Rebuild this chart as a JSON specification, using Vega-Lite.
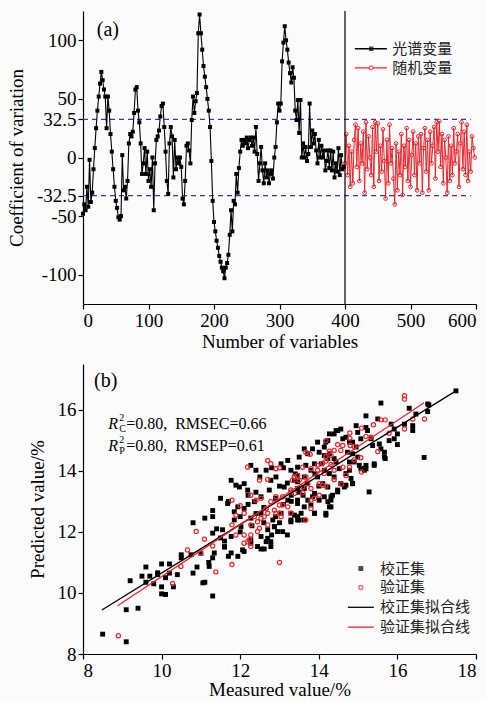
{
"$schema": "https://vega.github.io/schema/vega-lite/v6.json",
"background": "#fbfbfb",
"padding": {"left": 7, "top": 10, "right": 8, "bottom": 2},
"spacing": 13,
"config": {
  "view": {"stroke": null},
  "font": "Liberation Serif",
  "axis": {"labelFont": "Liberation Serif", "titleFont": "Liberation Serif", "labelFontSize": 19, "titleFontSize": 19, "titleFontWeight": "normal", "labelColor": "black", "titleColor": "black", "domainColor": "black", "tickColor": "black", "grid": false, "tickSize": 5, "domainWidth": 1.2, "tickWidth": 1.2, "labelPadding": 2}
},
"datasets": {
  "one": [{}],
  "hdash": [{"h": 32.5}, {"h": -32.5}],
  "spec": [
{"v":0,"cv":-48},{"v":2,"cv":-40},{"v":4,"cv":-45},{"v":6,"cv":-25},{"v":8,"cv":-42},{"v":10,"cv":-2},{"v":12,"cv":-38},{"v":14,"cv":-30},{"v":16,"cv":-10},{"v":18,"cv":8},
{"v":20,"cv":25},{"v":22,"cv":40},{"v":24,"cv":52},{"v":26,"cv":63},{"v":28,"cv":73},{"v":30,"cv":66},{"v":32,"cv":58},{"v":34,"cv":52},{"v":36,"cv":25},{"v":38,"cv":52},
{"v":40,"cv":40},{"v":42,"cv":20},{"v":44,"cv":5},{"v":46,"cv":-10},{"v":48,"cv":-25},{"v":50,"cv":-37},{"v":52,"cv":-43},{"v":54,"cv":-51},{"v":56,"cv":-53},{"v":58,"cv":-50},
{"v":60,"cv":2},{"v":62,"cv":-28},{"v":64,"cv":-25},{"v":66,"cv":-35},{"v":68,"cv":-20},{"v":70,"cv":12},{"v":72,"cv":20},{"v":74,"cv":18},{"v":76,"cv":22},{"v":78,"cv":38},
{"v":80,"cv":58},{"v":82,"cv":60},{"v":84,"cv":40},{"v":86,"cv":30},{"v":88,"cv":12},{"v":90,"cv":-14},{"v":92,"cv":-5},{"v":94,"cv":8},{"v":96,"cv":-14},{"v":98,"cv":5},
{"v":100,"cv":-20},{"v":102,"cv":-10},{"v":104,"cv":-25},{"v":106,"cv":0},{"v":108,"cv":-45},{"v":110,"cv":-5},{"v":112,"cv":15},{"v":114,"cv":18},{"v":116,"cv":23},{"v":118,"cv":35},
{"v":120,"cv":44},{"v":122,"cv":46},{"v":124,"cv":26},{"v":126,"cv":5},{"v":128,"cv":-20},{"v":130,"cv":-31},{"v":132,"cv":12},{"v":134,"cv":26},{"v":136,"cv":18},{"v":138,"cv":-17},
{"v":140,"cv":15},{"v":142,"cv":-10},{"v":144,"cv":0},{"v":146,"cv":-5},{"v":148,"cv":0},{"v":150,"cv":-8},{"v":152,"cv":-35},{"v":154,"cv":-40},{"v":156,"cv":-20},{"v":158,"cv":10},
{"v":160,"cv":12},{"v":162,"cv":6},{"v":164,"cv":-5},{"v":166,"cv":32},{"v":168,"cv":52},{"v":170,"cv":38},{"v":172,"cv":48},{"v":174,"cv":55},{"v":176,"cv":106},{"v":178,"cv":122},
{"v":180,"cv":106},{"v":182,"cv":92},{"v":184,"cv":78},{"v":186,"cv":69},{"v":188,"cv":60},{"v":190,"cv":50},{"v":192,"cv":40},{"v":194,"cv":26},{"v":196,"cv":-3},{"v":198,"cv":-37},
{"v":200,"cv":-55},{"v":202,"cv":-63},{"v":204,"cv":-71},{"v":206,"cv":-77},{"v":208,"cv":-84},{"v":210,"cv":-89},{"v":212,"cv":-94},{"v":214,"cv":-97},{"v":216,"cv":-103},{"v":218,"cv":-94},
{"v":220,"cv":-90},{"v":222,"cv":-83},{"v":224,"cv":-66},{"v":226,"cv":-45},{"v":228,"cv":-63},{"v":230,"cv":-37},{"v":232,"cv":-40},{"v":234,"cv":-14},{"v":236,"cv":-30},{"v":238,"cv":-9},
{"v":240,"cv":5},{"v":242,"cv":15},{"v":244,"cv":10},{"v":246,"cv":15},{"v":248,"cv":12},{"v":250,"cv":17},{"v":252,"cv":8},{"v":254,"cv":15},{"v":256,"cv":17},{"v":258,"cv":10},
{"v":260,"cv":17},{"v":262,"cv":5},{"v":264,"cv":26},{"v":266,"cv":3},{"v":268,"cv":-20},{"v":270,"cv":-5},{"v":272,"cv":9},{"v":274,"cv":-11},{"v":276,"cv":-22},{"v":278,"cv":-5},
{"v":280,"cv":-17},{"v":282,"cv":-11},{"v":284,"cv":-22},{"v":286,"cv":-14},{"v":288,"cv":-11},{"v":290,"cv":-18},{"v":292,"cv":0},{"v":294,"cv":9},{"v":296,"cv":30},{"v":298,"cv":46},
{"v":300,"cv":40},{"v":302,"cv":46},{"v":304,"cv":82},{"v":306,"cv":98},{"v":308,"cv":112},{"v":310,"cv":100},{"v":312,"cv":92},{"v":314,"cv":81},{"v":316,"cv":72},{"v":318,"cv":64},
{"v":320,"cv":77},{"v":322,"cv":68},{"v":324,"cv":40},{"v":326,"cv":32},{"v":328,"cv":49},{"v":330,"cv":21},{"v":332,"cv":49},{"v":334,"cv":0},{"v":336,"cv":12},{"v":338,"cv":0},
{"v":340,"cv":9},{"v":342,"cv":-3},{"v":344,"cv":3},{"v":346,"cv":46},{"v":348,"cv":9},{"v":350,"cv":23},{"v":352,"cv":12},{"v":354,"cv":20},{"v":356,"cv":6},{"v":358,"cv":-5},
{"v":360,"cv":15},{"v":362,"cv":0},{"v":364,"cv":10},{"v":366,"cv":0},{"v":368,"cv":6},{"v":370,"cv":-11},{"v":372,"cv":-3},{"v":374,"cv":6},{"v":376,"cv":-9},{"v":378,"cv":6},
{"v":380,"cv":-11},{"v":382,"cv":5},{"v":384,"cv":-17},{"v":386,"cv":-5},{"v":388,"cv":-12},{"v":390,"cv":8},{"v":392,"cv":-15},{"v":394,"cv":2},{"v":396,"cv":-10},{"v":398,"cv":-8}
  ],
  "rand": [
{"v":400,"cv":-5},{"v":402,"cv":20},{"v":404,"cv":-15},{"v":406,"cv":10},{"v":408,"cv":-25},{"v":410,"cv":5},{"v":412,"cv":-22},{"v":414,"cv":15},{"v":416,"cv":28},{"v":418,"cv":-8},
{"v":420,"cv":25},{"v":422,"cv":-20},{"v":424,"cv":12},{"v":426,"cv":-5},{"v":428,"cv":22},{"v":430,"cv":-30},{"v":432,"cv":30},{"v":434,"cv":-10},{"v":436,"cv":18},{"v":438,"cv":0},
{"v":440,"cv":-15},{"v":442,"cv":26},{"v":444,"cv":-25},{"v":446,"cv":30},{"v":448,"cv":5},{"v":450,"cv":29},{"v":452,"cv":-20},{"v":454,"cv":10},{"v":456,"cv":-12},{"v":458,"cv":24},
{"v":460,"cv":-3},{"v":462,"cv":-35},{"v":464,"cv":15},{"v":466,"cv":-22},{"v":468,"cv":28},{"v":470,"cv":-5},{"v":472,"cv":8},{"v":474,"cv":-18},{"v":476,"cv":-40},{"v":478,"cv":12},
{"v":480,"cv":-28},{"v":482,"cv":5},{"v":484,"cv":-15},{"v":486,"cv":20},{"v":488,"cv":-32},{"v":490,"cv":10},{"v":492,"cv":-8},{"v":494,"cv":25},{"v":496,"cv":-20},{"v":498,"cv":15},
{"v":500,"cv":-25},{"v":502,"cv":2},{"v":504,"cv":22},{"v":506,"cv":-15},{"v":508,"cv":12},{"v":510,"cv":-28},{"v":512,"cv":18},{"v":514,"cv":-5},{"v":516,"cv":20},{"v":518,"cv":-30},
{"v":520,"cv":8},{"v":522,"cv":25},{"v":524,"cv":-12},{"v":526,"cv":15},{"v":528,"cv":-28},{"v":530,"cv":22},{"v":532,"cv":-5},{"v":534,"cv":10},{"v":536,"cv":26},{"v":538,"cv":-18},
{"v":540,"cv":30},{"v":542,"cv":5},{"v":544,"cv":31},{"v":546,"cv":-8},{"v":548,"cv":20},{"v":550,"cv":-22},{"v":552,"cv":15},{"v":554,"cv":0},{"v":556,"cv":-30},{"v":558,"cv":18},
{"v":560,"cv":-20},{"v":562,"cv":10},{"v":564,"cv":-15},{"v":566,"cv":25},{"v":568,"cv":-5},{"v":570,"cv":5},{"v":572,"cv":20},{"v":574,"cv":-25},{"v":576,"cv":12},{"v":578,"cv":30},
{"v":580,"cv":-10},{"v":582,"cv":22},{"v":584,"cv":-15},{"v":586,"cv":28},{"v":588,"cv":-20},{"v":590,"cv":5},{"v":592,"cv":-12},{"v":594,"cv":18},{"v":596,"cv":8},{"v":598,"cv":0}
  ],
  "cal": [
{"m":8.5,"p":8.65},{"m":9.1,"p":8.4},{"m":9.1,"p":9.45},{"m":9.4,"p":9.5},{"m":9.2,"p":10.4},{"m":9.5,"p":10.55},{"m":9.6,"p":10.85},{"m":9.6,"p":10.35},{"m":9.7,"p":10.55},{"m":9.8,"p":10.3},
{"m":9.9,"p":10.6},{"m":10.0,"p":10.95},{"m":10.0,"p":10.2},{"m":10.0,"p":9.97},{"m":10.1,"p":9.95},{"m":10.1,"p":10.5},{"m":10.2,"p":10.95},{"m":10.2,"p":10.65},{"m":10.3,"p":10.2},{"m":10.4,"p":10.6},
{"m":10.5,"p":11.25},{"m":10.5,"p":11.15},{"m":10.8,"p":10.65},{"m":10.8,"p":12.3},{"m":10.9,"p":10.85},{"m":11.0,"p":11.3},{"m":11.1,"p":12.45},{"m":11.1,"p":10.35},{"m":11.2,"p":11.0},{"m":11.3,"p":12.7},
{"m":11.3,"p":12.5},{"m":11.3,"p":11.15},{"m":11.3,"p":9.9},{"m":11.4,"p":12.1},{"m":11.5,"p":13.1},{"m":11.5,"p":11.8},{"m":11.6,"p":11.5},{"m":11.6,"p":11.7},{"m":11.7,"p":11.2},{"m":11.7,"p":13.0},
{"m":11.77,"p":13.69},{"m":11.89,"p":13.53},{"m":11.98,"p":13.47},{"m":12.10,"p":13.58},{"m":12.27,"p":14.18},{"m":12.40,"p":14.02},{"m":12.19,"p":13.37},{"m":11.68,"p":12.93},{"m":11.30,"p":11.96},{"m":11.55,"p":12.07},
{"m":11.77,"p":11.85},{"m":11.60,"p":11.52},{"m":11.34,"p":11.31},{"m":11.21,"p":10.87},{"m":10.75,"p":11.25},{"m":11.05,"p":10.33},{"m":9.90,"p":10.66},{"m":11.77,"p":11.31},{"m":11.94,"p":11.20},{"m":12.06,"p":11.41},
{"m":12.27,"p":11.63},{"m":12.44,"p":11.52},{"m":12.66,"p":11.68},{"m":12.78,"p":11.52},{"m":12.53,"p":11.85},{"m":12.27,"p":12.45},{"m":12.53,"p":12.61},{"m":11.85,"p":12.39},{"m":12.02,"p":12.17},{"m":11.85,"p":12.66},
{"m":11.94,"p":12.82},{"m":12.10,"p":12.77},{"m":12.36,"p":12.99},{"m":12.53,"p":13.15},{"m":12.74,"p":13.37},{"m":12.78,"p":13.69},{"m":12.66,"p":14.02},{"m":12.91,"p":13.80},{"m":13.04,"p":14.23},{"m":13.21,"p":14.34},
{"m":13.29,"p":14.02},{"m":13.38,"p":13.69},{"m":13.46,"p":14.12},{"m":13.12,"p":13.47},{"m":13.21,"p":13.04},{"m":13.04,"p":12.61},{"m":13.29,"p":12.61},{"m":13.46,"p":12.39},{"m":13.46,"p":13.04},{"m":12.83,"p":12.39},
{"m":12.87,"p":12.17},{"m":12.70,"p":12.07},
{"m":17.49,"p":16.62},{"m":15.58,"p":16.22},{"m":16.77,"p":16.19},{"m":16.77,"p":15.94},{"m":16.30,"p":16.05},{"m":16.47,"p":15.86},{"m":16.18,"p":15.53},{"m":16.39,"p":15.48},{"m":16.39,"p":15.32},{"m":15.20,"p":15.80},
{"m":15.50,"p":15.70},{"m":15.84,"p":15.53},{"m":15.92,"p":15.37},{"m":16.0,"p":15.21},{"m":15.79,"p":14.99},{"m":15.92,"p":15.05},{"m":16.0,"p":14.86},{"m":15.67,"p":14.61},{"m":15.69,"p":14.40},{"m":15.54,"p":14.88},
{"m":15.58,"p":14.72},{"m":15.33,"p":15.05},{"m":15.37,"p":14.83},{"m":15.24,"p":15.32},{"m":15.20,"p":15.42},{"m":14.95,"p":15.48},{"m":14.99,"p":15.26},{"m":15.07,"p":15.05},{"m":15.41,"p":14.18},{"m":15.16,"p":14.02},
{"m":15.16,"p":14.08},{"m":14.86,"p":13.58},{"m":14.48,"p":15.32},{"m":14.56,"p":15.37},{"m":14.39,"p":15.21},{"m":14.27,"p":15.21},{"m":14.23,"p":14.99},{"m":13.97,"p":14.94},{"m":14.61,"p":15.05},{"m":14.69,"p":15.10},
{"m":14.78,"p":14.94},{"m":14.86,"p":14.94},{"m":14.95,"p":14.78},{"m":14.73,"p":14.61},{"m":14.86,"p":14.56},{"m":14.99,"p":14.45},{"m":14.78,"p":14.29},{"m":14.90,"p":14.29},{"m":15.03,"p":14.18},{"m":15.07,"p":14.07},
{"m":15.20,"p":14.18},{"m":14.69,"p":13.91},{"m":14.78,"p":14.02},{"m":14.82,"p":13.75},{"m":14.56,"p":13.58},{"m":14.69,"p":13.53},{"m":14.35,"p":13.20},{"m":14.48,"p":13.37},{"m":14.31,"p":13.15},{"m":14.14,"p":13.15},
{"m":14.23,"p":12.99},{"m":13.89,"p":13.26},{"m":14.01,"p":13.04},{"m":14.18,"p":12.55},{"m":14.31,"p":12.82},{"m":13.89,"p":12.61},{"m":13.63,"p":12.82},{"m":13.80,"p":12.88},{"m":13.46,"p":12.93},{"m":13.55,"p":12.61},
{"m":13.46,"p":12.50},{"m":13.63,"p":12.39},{"m":13.29,"p":12.39},{"m":13.38,"p":12.55},{"m":13.72,"p":13.04},{"m":13.84,"p":13.15},{"m":13.63,"p":13.42},{"m":13.46,"p":13.42},{"m":13.46,"p":13.64},{"m":13.46,"p":13.85},
{"m":13.63,"p":13.80},{"m":13.80,"p":14.02},{"m":13.67,"p":14.18},{"m":13.89,"p":14.23},{"m":13.50,"p":14.45},{"m":13.72,"p":14.56},{"m":13.63,"p":14.72},{"m":13.84,"p":14.72},{"m":14.14,"p":14.78},{"m":14.01,"p":14.61},
{"m":14.14,"p":14.50},{"m":14.27,"p":14.56},{"m":14.44,"p":15.32},{"m":14.18,"p":14.94},{"m":14.23,"p":14.40},{"m":14.39,"p":14.40},{"m":14.44,"p":14.29},{"m":14.52,"p":14.07},{"m":14.06,"p":14.23},{"m":14.14,"p":14.02},
{"m":14.27,"p":13.91},{"m":13.97,"p":13.80},{"m":14.10,"p":13.58},{"m":14.23,"p":13.47},{"m":14.39,"p":13.80},
{"m":12.53,"p":11.44},{"m":12.61,"p":11.44},{"m":12.78,"p":11.68},{"m":12.70,"p":11.79},{"m":12.95,"p":12.01},{"m":13.08,"p":12.01},{"m":12.87,"p":12.17},{"m":12.10,"p":11.36},{"m":12.27,"p":11.74},{"m":13.29,"p":12.33},
{"m":13.50,"p":12.39},{"m":13.89,"p":12.61},{"m":14.18,"p":12.61},{"m":14.27,"p":12.82},{"m":14.48,"p":13.31},{"m":14.31,"p":13.04},{"m":14.65,"p":13.47},{"m":14.86,"p":13.58},{"m":15.20,"p":14.07},{"m":15.41,"p":14.23},
{"m":15.67,"p":14.45},{"m":15.28,"p":13.31},{"m":16.68,"p":14.44},{"m":16.8,"p":16.16},
{"m":12.2,"p":12.9},{"m":12.4,"p":13.3},{"m":12.6,"p":12.8},{"m":12.9,"p":13.1},{"m":13.0,"p":13.5},{"m":13.1,"p":12.9},{"m":13.2,"p":13.6},{"m":13.3,"p":13.2},{"m":13.4,"p":13.9},{"m":12.5,"p":13.8},
{"m":12.8,"p":14.1},{"m":12.0,"p":12.5},{"m":12.3,"p":12.2},{"m":12.6,"p":12.3},{"m":13.0,"p":12.3},{"m":13.3,"p":13.0},{"m":13.6,"p":13.2},{"m":13.1,"p":14.1},{"m":12.9,"p":12.5},{"m":13.5,"p":13.3},
{"m":12.4,"p":12.6},{"m":12.2,"p":13.2},{"m":13.7,"p":13.6},{"m":13.9,"p":13.9},{"m":14.0,"p":13.5},{"m":13.2,"p":11.9},{"m":12.8,"p":11.9},{"m":12.0,"p":12.0}
  ],
  "val": [
{"m":8.9,"p":8.6},{"m":10.28,"p":10.31},{"m":10.49,"p":10.87},{"m":10.66,"p":11.41},{"m":10.88,"p":12.01},{"m":10.99,"p":11.31},{"m":11.09,"p":11.76},{"m":11.30,"p":11.54},{"m":11.38,"p":10.69},{"m":11.79,"p":13.04},
{"m":12.0,"p":12.86},{"m":11.89,"p":12.55},{"m":12.10,"p":12.61},{"m":12.27,"p":13.20},{"m":12.40,"p":13.04},{"m":12.53,"p":13.10},{"m":12.36,"p":12.50},{"m":12.44,"p":12.33},{"m":12.27,"p":12.23},{"m":12.49,"p":12.12},
{"m":12.61,"p":12.50},{"m":12.70,"p":12.61},{"m":12.70,"p":12.23},{"m":12.10,"p":11.90},{"m":12.27,"p":11.90},{"m":12.10,"p":11.63},{"m":12.19,"p":11.68},{"m":12.27,"p":11.52},{"m":11.79,"p":12.23},{"m":11.89,"p":11.90},
{"m":11.79,"p":10.93},{"m":12.19,"p":14.12},{"m":12.70,"p":14.34},{"m":12.78,"p":14.23},{"m":13.0,"p":14.10},{"m":12.91,"p":14.07},{"m":12.49,"p":13.69},{"m":12.70,"p":13.72},{"m":13.0,"p":11.0},{"m":12.91,"p":13.15},
{"m":13.0,"p":12.88},{"m":13.08,"p":12.88},{"m":13.21,"p":12.82},{"m":12.87,"p":12.71},{"m":12.91,"p":12.61},{"m":13.0,"p":12.61},{"m":12.78,"p":12.99},{"m":13.29,"p":13.37},{"m":13.38,"p":13.80},{"m":13.46,"p":13.85},
{"m":13.33,"p":13.69},{"m":13.29,"p":12.61},{"m":13.08,"p":13.15},{"m":12.66,"p":12.77},{"m":16.18,"p":16.46},{"m":16.18,"p":16.35},{"m":16.69,"p":15.70},{"m":16.39,"p":15.70},{"m":16.18,"p":15.37},{"m":15.58,"p":15.67},
{"m":15.69,"p":15.67},{"m":15.39,"p":15.51},{"m":15.09,"p":15.40},{"m":14.79,"p":15.24},{"m":14.79,"p":15.07},{"m":15.20,"p":15.13},{"m":15.33,"p":15.10},{"m":15.79,"p":15.23},{"m":15.50,"p":14.63},{"m":14.18,"p":14.99},
{"m":14.48,"p":14.86},{"m":14.61,"p":14.83},{"m":14.80,"p":14.83},{"m":14.90,"p":14.80},{"m":14.39,"p":14.67},{"m":14.56,"p":14.67},{"m":14.27,"p":14.64},{"m":14.31,"p":14.50},{"m":14.18,"p":14.47},{"m":15.07,"p":14.43},
{"m":14.90,"p":14.36},{"m":14.78,"p":14.12},{"m":14.61,"p":14.12},{"m":15.09,"p":13.96},{"m":14.69,"p":13.85},{"m":14.39,"p":13.71},{"m":14.58,"p":13.56},{"m":13.67,"p":14.61},{"m":13.78,"p":14.54},{"m":14.18,"p":14.32},
{"m":14.31,"p":14.21},{"m":13.97,"p":14.18},{"m":14.10,"p":14.25},{"m":13.59,"p":14.12},{"m":13.80,"p":14.07},{"m":13.38,"p":13.80},{"m":13.50,"p":13.69},{"m":13.67,"p":13.80},{"m":13.59,"p":13.47},{"m":13.72,"p":13.58},
{"m":13.80,"p":13.42},{"m":14.01,"p":13.58},{"m":14.10,"p":13.53},{"m":14.18,"p":13.50},{"m":13.97,"p":14.02},{"m":14.14,"p":13.91},{"m":14.39,"p":14.02},{"m":13.29,"p":13.31},{"m":13.38,"p":13.26},{"m":13.59,"p":13.28},
{"m":13.80,"p":13.04},{"m":13.89,"p":13.10},{"m":14.01,"p":13.20},{"m":13.80,"p":12.77},{"m":13.67,"p":12.39},{"m":12.53,"p":12.45},{"m":12.23,"p":11.74},{"m":12.44,"p":12.01},{"m":13.04,"p":12.50}
  ],
  "fit": [
{"set":"cal","m":8.48,"p":9.44},{"set":"cal","m":17.49,"p":16.62},{"set":"val","m":8.88,"p":9.58},{"set":"val","m":16.68,"p":16.23}
  ]
},
"vconcat": [
{
  "width": 393, "height": 293,
  "layer": [
    {
      "data": {"name": "hdash"},
      "mark": {"type": "rule", "color": "#3b3b9b", "strokeDash": [5, 4], "strokeWidth": 1.2},
      "encoding": {
        "y": {"field": "h", "type": "quantitative", "scale": {"domain": [-125, 125], "nice": false}, "axis": {"values": [-100, -50, -32.5, 0, 32.5, 50, 100], "labelExpr": "'' + datum.value", "title": "Coefficient of variation", "titlePadding": 10}},
        "x": {"datum": 0, "type": "quantitative", "scale": {"domain": [0, 600], "nice": false}, "axis": {"values": [0, 100, 200, 300, 400, 500, 600], "format": "d", "title": "Number of variables", "titlePadding": 2}},
        "x2": {"datum": 592}
      }
    },
    {
      "data": {"name": "spec"},
      "mark": {"type": "line", "color": "black", "strokeWidth": 1.1, "point": {"shape": "square", "filled": true, "size": 16, "color": "black"}},
      "encoding": {"x": {"field": "v", "type": "quantitative"}, "y": {"field": "cv", "type": "quantitative"}}
    },
    {
      "data": {"name": "rand"},
      "mark": {"type": "line", "color": "#e8262c", "strokeWidth": 1, "point": {"shape": "circle", "filled": false, "size": 14, "strokeWidth": 1, "color": "#e8262c"}},
      "encoding": {"x": {"field": "v", "type": "quantitative"}, "y": {"field": "cv", "type": "quantitative"}}
    },
    {
      "data": {"name": "one"},
      "mark": {"type": "rule", "color": "black", "strokeWidth": 1.2},
      "encoding": {"x": {"datum": 400, "type": "quantitative"}}
    },
    {
      "data": {"name": "one"},
      "mark": {"type": "text", "text": "(a)", "fontSize": 20, "font": "Liberation Serif", "align": "left", "baseline": "middle", "color": "black"},
      "encoding": {"x": {"datum": 21, "type": "quantitative"}, "y": {"datum": 109, "type": "quantitative"}}
    },
    {
      "data": {"name": "one"},
      "mark": {"type": "rule", "color": "black", "strokeWidth": 1.4},
      "encoding": {"x": {"datum": 415, "type": "quantitative"}, "x2": {"datum": 464}, "y": {"datum": 92.8, "type": "quantitative"}}
    },
    {
      "data": {"name": "one"},
      "mark": {"type": "point", "shape": "square", "filled": true, "size": 20, "color": "black"},
      "encoding": {"x": {"datum": 440, "type": "quantitative"}, "y": {"datum": 92.8, "type": "quantitative"}}
    },
    {
      "data": {"name": "one"},
      "mark": {"type": "rule", "color": "#e8262c", "strokeWidth": 1.4},
      "encoding": {"x": {"datum": 415, "type": "quantitative"}, "x2": {"datum": 464}, "y": {"datum": 76.5, "type": "quantitative"}}
    },
    {
      "data": {"name": "one"},
      "mark": {"type": "point", "shape": "circle", "filled": false, "size": 16, "strokeWidth": 1, "color": "#e8262c", "fill": "#fbfbfb", "fillOpacity": 1},
      "encoding": {"x": {"datum": 440, "type": "quantitative"}, "y": {"datum": 76.5, "type": "quantitative"}}
    },
    {
      "data": {"name": "one"},
      "mark": {"type": "text", "text": "光谱变量", "fontSize": 15, "font": "Noto Sans CJK SC", "align": "left", "baseline": "middle", "color": "#222"},
      "encoding": {"x": {"datum": 472, "type": "quantitative"}, "y": {"datum": 92.8, "type": "quantitative"}}
    },
    {
      "data": {"name": "one"},
      "mark": {"type": "text", "text": "随机变量", "fontSize": 15, "font": "Noto Sans CJK SC", "align": "left", "baseline": "middle", "color": "#222"},
      "encoding": {"x": {"datum": 472, "type": "quantitative"}, "y": {"datum": 76.5, "type": "quantitative"}}
    }
  ]
},
{
  "width": 393, "height": 290,
  "layer": [
    {
      "data": {"name": "cal"},
      "mark": {"type": "point", "shape": "square", "filled": true, "size": 24, "color": "black", "opacity": 1},
      "encoding": {
        "x": {"field": "m", "type": "quantitative", "scale": {"domain": [8, 18], "nice": false}, "axis": {"values": [8, 10, 12, 14, 16, 18], "title": "Measured value/%", "titlePadding": 0}},
        "y": {"field": "p", "type": "quantitative", "scale": {"domain": [8, 17.5], "nice": false}, "axis": {"values": [8, 10, 12, 14, 16], "title": "Predicted value/%", "titlePadding": 10}}
      }
    },
    {
      "data": {"name": "val"},
      "mark": {"type": "point", "shape": "circle", "filled": false, "size": 18, "strokeWidth": 1.2, "color": "#e8262c", "opacity": 1},
      "encoding": {"x": {"field": "m", "type": "quantitative"}, "y": {"field": "p", "type": "quantitative"}}
    },
    {
      "data": {"name": "fit"},
      "mark": {"type": "line", "strokeWidth": 1.3},
      "encoding": {
        "x": {"field": "m", "type": "quantitative"},
        "y": {"field": "p", "type": "quantitative"},
        "color": {"field": "set", "type": "nominal", "scale": {"domain": ["cal", "val"], "range": ["black", "#e8262c"]}, "legend": null}
      }
    },
    {
      "data": {"name": "one"},
      "mark": {"type": "text", "text": "(b)", "fontSize": 20, "font": "Liberation Serif", "align": "left", "baseline": "middle", "color": "black"},
      "encoding": {"x": {"datum": 8.28, "type": "quantitative"}, "y": {"datum": 16.94, "type": "quantitative"}}
    },
    {
      "data": {"name": "one"},
      "mark": {"type": "text", "text": "R", "fontSize": 16, "fontStyle": "italic", "font": "Liberation Serif", "align": "left", "baseline": "middle", "color": "black"},
      "encoding": {"x": {"datum": 8.64, "type": "quantitative"}, "y": {"datum": 15.55, "type": "quantitative"}}
    },
    {
      "data": {"name": "one"},
      "mark": {"type": "text", "text": "2", "fontSize": 10, "font": "Liberation Serif", "align": "left", "baseline": "middle", "dx": 11, "dy": -6, "color": "black"},
      "encoding": {"x": {"datum": 8.64, "type": "quantitative"}, "y": {"datum": 15.55, "type": "quantitative"}}
    },
    {
      "data": {"name": "one"},
      "mark": {"type": "text", "text": "C", "fontSize": 10, "font": "Liberation Serif", "align": "left", "baseline": "middle", "dx": 11, "dy": 5, "color": "black"},
      "encoding": {"x": {"datum": 8.64, "type": "quantitative"}, "y": {"datum": 15.55, "type": "quantitative"}}
    },
    {
      "data": {"name": "one"},
      "mark": {"type": "text", "text": "=0.80,\u00a0 RMSEC=0.66", "fontSize": 16, "font": "Liberation Serif", "align": "left", "baseline": "middle", "dx": 18, "color": "black"},
      "encoding": {"x": {"datum": 8.64, "type": "quantitative"}, "y": {"datum": 15.55, "type": "quantitative"}}
    },
    {
      "data": {"name": "one"},
      "mark": {"type": "text", "text": "R", "fontSize": 16, "fontStyle": "italic", "font": "Liberation Serif", "align": "left", "baseline": "middle", "color": "black"},
      "encoding": {"x": {"datum": 8.64, "type": "quantitative"}, "y": {"datum": 14.83, "type": "quantitative"}}
    },
    {
      "data": {"name": "one"},
      "mark": {"type": "text", "text": "2", "fontSize": 10, "font": "Liberation Serif", "align": "left", "baseline": "middle", "dx": 11, "dy": -6, "color": "black"},
      "encoding": {"x": {"datum": 8.64, "type": "quantitative"}, "y": {"datum": 14.83, "type": "quantitative"}}
    },
    {
      "data": {"name": "one"},
      "mark": {"type": "text", "text": "P", "fontSize": 10, "font": "Liberation Serif", "align": "left", "baseline": "middle", "dx": 11, "dy": 5, "color": "black"},
      "encoding": {"x": {"datum": 8.64, "type": "quantitative"}, "y": {"datum": 14.83, "type": "quantitative"}}
    },
    {
      "data": {"name": "one"},
      "mark": {"type": "text", "text": "=0.80,\u00a0 RMSEP=0.61", "fontSize": 16, "font": "Liberation Serif", "align": "left", "baseline": "middle", "dx": 18, "color": "black"},
      "encoding": {"x": {"datum": 8.64, "type": "quantitative"}, "y": {"datum": 14.83, "type": "quantitative"}}
    },
    {
      "data": {"name": "one"},
      "mark": {"type": "point", "shape": "square", "filled": true, "size": 24, "color": "black"},
      "encoding": {"x": {"datum": 15.07, "type": "quantitative"}, "y": {"datum": 10.8, "type": "quantitative"}}
    },
    {
      "data": {"name": "one"},
      "mark": {"type": "point", "shape": "circle", "filled": false, "size": 18, "strokeWidth": 1.2, "color": "#e8262c"},
      "encoding": {"x": {"datum": 15.07, "type": "quantitative"}, "y": {"datum": 10.18, "type": "quantitative"}}
    },
    {
      "data": {"name": "one"},
      "mark": {"type": "rule", "color": "black", "strokeWidth": 1.3},
      "encoding": {"x": {"datum": 14.74, "type": "quantitative"}, "x2": {"datum": 15.4}, "y": {"datum": 9.53, "type": "quantitative"}}
    },
    {
      "data": {"name": "one"},
      "mark": {"type": "rule", "color": "#e8262c", "strokeWidth": 1.3},
      "encoding": {"x": {"datum": 14.74, "type": "quantitative"}, "x2": {"datum": 15.4}, "y": {"datum": 8.88, "type": "quantitative"}}
    },
    {
      "data": {"name": "one"},
      "mark": {"type": "text", "text": "校正集", "fontSize": 15, "font": "Noto Sans CJK SC", "align": "left", "baseline": "middle", "color": "#222"},
      "encoding": {"x": {"datum": 15.56, "type": "quantitative"}, "y": {"datum": 10.8, "type": "quantitative"}}
    },
    {
      "data": {"name": "one"},
      "mark": {"type": "text", "text": "验证集", "fontSize": 15, "font": "Noto Sans CJK SC", "align": "left", "baseline": "middle", "color": "#222"},
      "encoding": {"x": {"datum": 15.56, "type": "quantitative"}, "y": {"datum": 10.18, "type": "quantitative"}}
    },
    {
      "data": {"name": "one"},
      "mark": {"type": "text", "text": "校正集拟合线", "fontSize": 15, "font": "Noto Sans CJK SC", "align": "left", "baseline": "middle", "color": "#222"},
      "encoding": {"x": {"datum": 15.56, "type": "quantitative"}, "y": {"datum": 9.53, "type": "quantitative"}}
    },
    {
      "data": {"name": "one"},
      "mark": {"type": "text", "text": "验证集拟合线", "fontSize": 15, "font": "Noto Sans CJK SC", "align": "left", "baseline": "middle", "color": "#222"},
      "encoding": {"x": {"datum": 15.56, "type": "quantitative"}, "y": {"datum": 8.88, "type": "quantitative"}}
    }
  ]
}
]
}
